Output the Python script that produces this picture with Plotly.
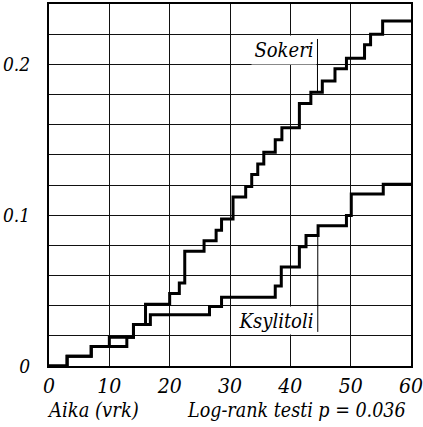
import plotly.graph_objects as go

# --- data ---
sokeri_t = [0, 3, 7, 10, 14, 16, 20, 21.6, 22.5, 25.7, 27.7, 28.6, 30.5, 32.6, 33.6,
            34.6, 35.6, 37.5, 38.6, 41.5, 43.4, 45.3, 47.4, 49.3, 52.3, 53.3, 55.3, 60]
sokeri_v = [0, 0.0065, 0.013, 0.019, 0.0275, 0.041, 0.048, 0.055, 0.076, 0.083, 0.090,
            0.0975, 0.112, 0.119, 0.127, 0.134, 0.1417, 0.150, 0.158, 0.174, 0.1815,
            0.189, 0.197, 0.204, 0.213, 0.220, 0.2287, 0.2287]

ksylitoli_t = [0, 3, 7, 12.9, 14, 16.8, 26.6, 28.6, 37.5, 38.5, 41.5, 42.6, 44.6,
               49.3, 50.1, 55.4, 60]
ksylitoli_v = [0, 0.0065, 0.013, 0.019, 0.0275, 0.034, 0.0394, 0.0456, 0.053, 0.0657,
               0.079, 0.0866, 0.093, 0.0997, 0.114, 0.1205, 0.1205]

x_ticks = [0, 10, 20, 30, 40, 50, 60]
x_ticktext = ["0", "10", "20", "30", "40", "50", "60"]
y_ticks = [0, 0.02, 0.04, 0.06, 0.08, 0.10, 0.12, 0.14, 0.16, 0.18, 0.20, 0.22, 0.24]
y_ticktext = ["0", "", "", "", "", "0.1", "", "", "", "", "0.2", "", ""]

FONT = "DejaVu Serif Condensed, DejaVu Serif, serif"

fig = go.Figure()
fig.add_trace(go.Scatter(x=sokeri_t, y=sokeri_v, mode="lines", name="Sokeri",
                         line=dict(shape="hv", color="black", width=3)))
fig.add_trace(go.Scatter(x=ksylitoli_t, y=ksylitoli_v, mode="lines", name="Ksylitoli",
                         line=dict(shape="hv", color="black", width=3)))

axis_common = dict(showline=True, mirror=True, linecolor="black", linewidth=2,
                   showgrid=True, gridcolor="#111", gridwidth=1.4, zeroline=False,
                   automargin=False, ticks="", ticklabeloverflow="allow")
fig.update_xaxes(range=[0, 60], tickmode="array", tickvals=x_ticks, ticktext=x_ticktext,
                 ticklabelstandoff=0,
                 tickfont=dict(family=FONT, size=21, color="black", style="italic"),
                 **axis_common)
fig.update_yaxes(range=[0, 0.24], tickmode="array", tickvals=y_ticks, ticktext=y_ticktext,
                 ticklabelstandoff=13,
                 tickfont=dict(family=FONT, size=19, color="black", style="italic"),
                 **axis_common)

# labels with white boxes
fig.add_annotation(x=38.9, y=0.2095, xref="x", yref="y", text="<i>Sokeri</i>",
                   showarrow=False, font=dict(family=FONT, size=20, color="black"),
                   bgcolor="white", width=64, height=28, borderpad=0)
fig.add_annotation(x=37.6, y=0.03, xref="x", yref="y", text="<i>Ksylitoli</i>",
                   showarrow=False, font=dict(family=FONT, size=20, color="black"),
                   bgcolor="white", width=80, height=27, borderpad=0)
# leader lines
fig.add_shape(type="line", x0=44.5, x1=44.5, y0=0.2168, y1=0.181, xref="x", yref="y",
              line=dict(color="black", width=1))
fig.add_shape(type="line", x0=44.55, x1=44.55, y0=0.0866, y1=0.0226, xref="x", yref="y",
              line=dict(color="black", width=1))

fig.add_annotation(x=-0.011, y=-0.122, xref="paper", yref="paper", xanchor="left",
                   yanchor="middle", text="<i>Aika (vrk)</i>", showarrow=False,
                   font=dict(family=FONT, size=20, color="black"))
fig.add_annotation(x=0.992, y=-0.122, xref="paper", yref="paper", xanchor="right",
                   yanchor="middle", text="<i>Log-rank testi p = 0.036</i>", showarrow=False,
                   font=dict(family=FONT, size=19.5, color="black"))

fig.update_layout(width=423, height=427, margin=dict(l=49, r=12, t=4, b=61),
                  paper_bgcolor="white", plot_bgcolor="white", showlegend=False)

fig.write_html("out.html", config={"displayModeBar": False},
               post_script="document.body.style.margin='0';")
